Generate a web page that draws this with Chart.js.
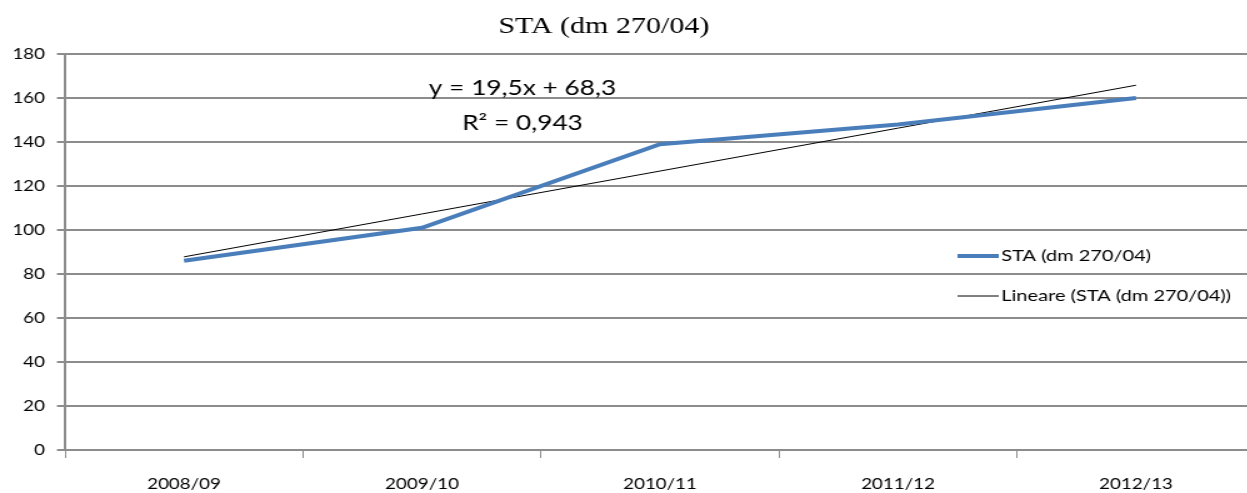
<!DOCTYPE html>
<html>
<head>
<meta charset="utf-8">
<script src="https://cdn.jsdelivr.net/npm/chart.js@4/dist/chart.umd.min.js"></script>
<style>
  html, body { margin: 0; padding: 0; background: #fff; overflow: hidden; width: 1247px; height: 493px; }
  /* the source picture is stretched sideways; draw narrow and widen it */
  #wrap { width: 1006px; height: 493px; transform: scaleX(1.25); transform-origin: 0 0; }
</style>
</head>
<body>
<div id="wrap"><canvas id="chart" width="1006" height="493"></canvas></div>
<script>
const categories = ['2008/09', '2009/10', '2010/11', '2011/12', '2012/13'];
const staValues = [86, 101, 139, 148, 160];
// linear trend y = 19,5x + 68,3 as printed on the chart
const trendValues = [87.8, 107.3, 126.8, 146.3, 165.8];
const yTicks = [0, 20, 40, 60, 80, 100, 120, 140, 160, 180];
const titleText = 'STA (dm 270/04)';
const equationLines = ['y = 19,5x + 68,3', 'R² = 0,943'];

const gridColor = '#8c8c8c';
const labelFont = 'Lato, "Open Sans", sans-serif';

const overlay = {
  id: 'overlay',
  afterDraw(chart) {
    const ctx = chart.ctx;
    ctx.save();
    // title
    ctx.fillStyle = '#000';
    ctx.font = '24px "Liberation Serif", serif';
    ctx.textAlign = 'center';
    ctx.textBaseline = 'middle';
    ctx.fillText(titleText, 483, 27);
    // trendline equation
    ctx.font = '21px ' + labelFont;
    ctx.fillText(equationLines[0], 418, 88);
    ctx.fillText(equationLines[1], 418, 123);
    // legend
    const ys = [256, 296];
    ctx.font = '16px ' + labelFont;
    ctx.textAlign = 'left';
    chart.data.datasets.forEach((ds, i) => {
      ctx.strokeStyle = ds.borderColor;
      ctx.lineWidth = ds.borderWidth;
      ctx.beginPath();
      ctx.moveTo(766, ys[i]);
      ctx.lineTo(799, ys[i]);
      ctx.stroke();
      ctx.fillStyle = '#000';
      ctx.fillText(ds.label, 801, ys[i]);
    });
    ctx.restore();
  }
};

new Chart(document.getElementById('chart'), {
  type: 'line',
  data: {
    labels: categories,
    datasets: [
      {
        label: 'STA (dm 270/04)',
        data: staValues,
        borderColor: '#4a7ebb',
        borderWidth: 4,
        pointRadius: 0,
        tension: 0
      },
      {
        label: 'Lineare (STA (dm 270/04))',
        data: trendValues,
        borderColor: '#000000',
        borderWidth: 1,
        pointRadius: 0,
        tension: 0
      }
    ]
  },
  options: {
    responsive: false,
    animation: false,
    layout: { padding: { top: 54, right: 2, left: 0, bottom: 0 } },
    plugins: {
      legend: { display: false },
      title: { display: false },
      tooltip: { enabled: false }
    },
    scales: {
      x: {
        offset: true,
        grid: {
          offset: true,
          drawOnChartArea: false,
          color: gridColor,
          tickLength: 8,
          lineWidth: 1
        },
        border: { color: gridColor, width: 2 },
        ticks: {
          color: '#000',
          font: { family: labelFont, size: 15 },
          padding: 17,
          maxRotation: 0
        },
        afterFit(scale) { scale.height = 43; }
      },
      y: {
        min: 0,
        max: 180,
        afterBuildTicks(scale) { scale.ticks = yTicks.map(v => ({ value: v })); },
        grid: {
          color: gridColor,
          lineWidth: 2,
          tickLength: 6.4
        },
        border: { color: gridColor, width: 2 },
        ticks: {
          color: '#000',
          font: { family: labelFont, size: 15 },
          padding: 9.6
        },
        afterFit(scale) { scale.width = 52; }
      }
    }
  },
  plugins: [overlay]
});
</script>
</body>
</html>
